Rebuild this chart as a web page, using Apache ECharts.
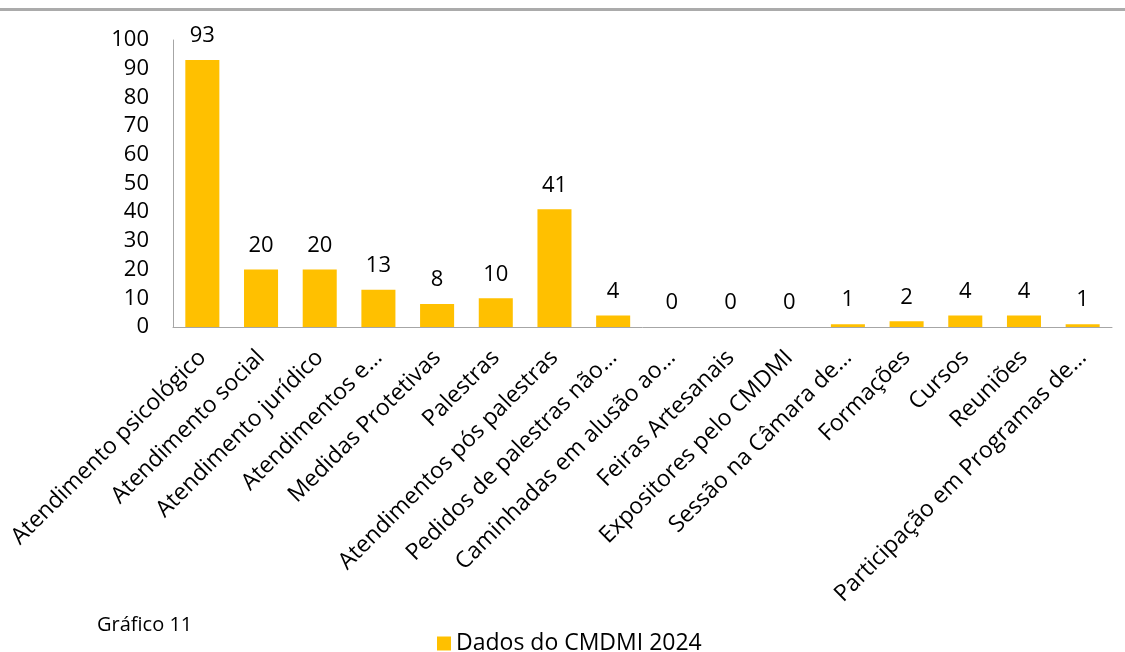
<!DOCTYPE html>
<html>
<head>
<meta charset="utf-8">
<script src="https://cdn.jsdelivr.net/npm/echarts@6/dist/echarts.min.js"></script>
<style>
html,body{margin:0;padding:0;background:#fff;}
#chart{width:1125px;height:652px;}
</style>
</head>
<body>
<div id="chart"></div>
<script>
const categories = [
  "Atendimento psicológico",
  "Atendimento social",
  "Atendimento jurídico",
  "Atendimentos e…",
  "Medidas Protetivas",
  "Palestras",
  "Atendimentos pós palestras",
  "Pedidos de palestras não…",
  "Caminhadas em alusão ao…",
  "Feiras Artesanais",
  "Expositores pelo CMDMI",
  "Sessão na Câmara de…",
  "Formações",
  "Cursos",
  "Reuniões",
  "Participação em Programas de…"
];
const values = [93, 20, 20, 13, 8, 10, 41, 4, 0, 0, 0, 1, 2, 4, 4, 1];
const seriesName = "Dados do CMDMI 2024";
const captionText = "Gráfico 11";
const yTicks = [0, 10, 20, 30, 40, 50, 60, 70, 80, 90, 100];

const FONT = "Open Sans";
const chart = echarts.init(document.getElementById('chart'));
chart.setOption({
  animation: false,
  textStyle: { fontFamily: FONT },
  grid: { left: 173, right: 13, top: 40, bottom: 325, containLabel: false, outerBoundsMode: 'none' },
  legend: {
    data: [seriesName],
    left: 432, top: 627,
    icon: 'rect', itemWidth: 14, itemHeight: 14, itemGap: 6,
    textStyle: { fontFamily: FONT, fontSize: 23, color: '#000' }
  },
  graphic: [
    { type: 'rect', shape: { x: 0, y: 8, width: 1125, height: 3 }, style: { fill: '#ababab' } },
    { type: 'text', left: 97, top: 615, style: { text: captionText, font: '20px "' + FONT + '"', fill: '#000' } }
  ],
  xAxis: {
    type: 'category',
    data: categories,
    axisLine: { lineStyle: { color: '#a6a6a6', width: 1 } },
    axisTick: { show: false },
    axisLabel: { rotate: 45, interval: 0, fontSize: 23, color: '#000', fontFamily: FONT, margin: 27 }
  },
  yAxis: {
    type: 'value',
    min: yTicks[0], max: yTicks[yTicks.length - 1], interval: 10,
    axisLine: { show: true, lineStyle: { color: '#a6a6a6', width: 1 } },
    axisTick: { show: false },
    splitLine: { show: false },
    axisLabel: { fontSize: 22, color: '#000', fontFamily: FONT, margin: 24 }
  },
  series: [{
    name: seriesName,
    type: 'bar',
    data: values,
    barWidth: '58%',
    itemStyle: { color: '#FFC000' },
    label: { show: true, position: 'top', distance: 13, fontSize: 22, color: '#000', fontFamily: FONT }
  }]
});
</script>
</body>
</html>
